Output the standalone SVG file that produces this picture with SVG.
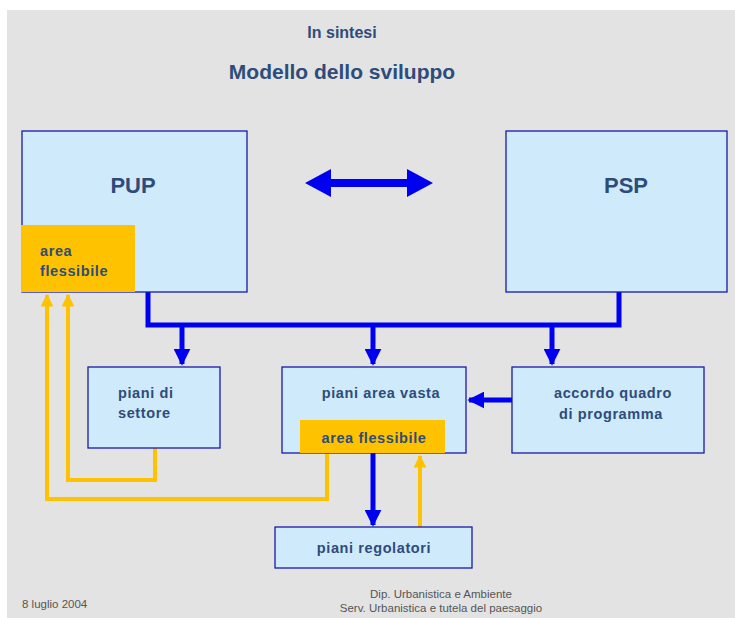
<svg xmlns="http://www.w3.org/2000/svg" width="735" height="618" viewBox="0 0 735 618">
<defs>
<style>
.box{fill:#cfeafb;stroke:#1a1aa8;stroke-width:1.3}
.flex{fill:#ffc200}
.t{font-family:"Liberation Sans",Arial,sans-serif;font-weight:bold;fill:#2e4c7a}
.l{font-size:14.5px;letter-spacing:0.6px}
.f{font-family:"Liberation Sans",Arial,sans-serif;fill:#555;font-size:11.5px}
.blue{stroke:#0000f0;stroke-width:5;fill:none}
.yel{stroke:#ffc200;stroke-width:4;fill:none}
</style>
<marker id="ab" viewBox="0 0 10 10" refX="9" refY="5" markerWidth="3.4" markerHeight="3.4" orient="auto" markerUnits="strokeWidth"><path d="M0,0 L10,5 L0,10 z" fill="#0000f0"/></marker>
<marker id="ay" viewBox="0 0 10 10" refX="9" refY="5" markerWidth="3.2" markerHeight="3.2" orient="auto" markerUnits="strokeWidth"><path d="M0,0 L10,5 L0,10 z" fill="#ffc200"/></marker>
</defs>
<rect x="0" y="0" width="735" height="618" fill="#ffffff"/>
<rect x="7" y="10" width="728" height="608" fill="#e3e3e3"/>
<text class="t" x="342" y="38" font-size="16" text-anchor="middle">In sintesi</text>
<text class="t" x="342" y="79" font-size="21" text-anchor="middle">Modello dello sviluppo</text>

<g id="connectors">
<path class="blue" d="M148,292 V325 H619 V292"/>
<path class="blue" d="M182,325 V364" marker-end="url(#ab)"/>
<path class="blue" d="M373,325 V364" marker-end="url(#ab)"/>
<path class="blue" d="M552,325 V364" marker-end="url(#ab)"/>
<path class="blue" d="M512,400 H469" marker-end="url(#ab)"/>
<path class="blue" d="M373,453 V525" marker-end="url(#ab)"/>
<polygon points="305,183 331,169 331,179 407,179 407,169 433,183 407,197 407,187 331,187 331,197" fill="#0000f0"/>
<path class="yel" d="M420,527 V456" marker-end="url(#ay)"/>
<path class="yel" d="M155,448 V480 H68 V295" marker-end="url(#ay)"/>
<path class="yel" d="M327,453 V499 H47 V295" marker-end="url(#ay)"/>
</g>

<g id="pup">
<rect class="box" x="22" y="131" width="225" height="161"/>
<text class="t" x="133" y="193" font-size="22" text-anchor="middle">PUP</text>
</g>
<g id="pup-flex">
<rect class="flex" x="21" y="225" width="114" height="67"/>
<text class="t l" x="40" y="256">area</text>
<text class="t l" x="40" y="276">flessibile</text>
</g>
<g id="psp">
<rect class="box" x="506" y="131" width="221" height="161"/>
<text class="t" x="626" y="193" font-size="22" text-anchor="middle">PSP</text>
</g>
<g id="settore">
<rect class="box" x="88" y="367" width="132" height="81"/>
<text class="t l" x="118" y="398">piani di</text>
<text class="t l" x="118" y="418">settore</text>
</g>
<g id="areavasta">
<rect class="box" x="282" y="367" width="184" height="86"/>
<text class="t l" x="381" y="398" text-anchor="middle">piani area vasta</text>
</g>
<g id="areavasta-flex">
<rect class="flex" x="300" y="420" width="145" height="33"/>
<text class="t l" x="374" y="443" text-anchor="middle">area flessibile</text>
</g>
<g id="accordo">
<rect class="box" x="512" y="367" width="192" height="86"/>
<text class="t l" x="613" y="398" text-anchor="middle">accordo quadro</text>
<text class="t l" x="611" y="419" text-anchor="middle">di programma</text>
</g>
<g id="regolatori">
<rect class="box" x="275" y="527" width="197" height="41"/>
<text class="t l" x="374" y="553" text-anchor="middle">piani regolatori</text>
</g>

<text class="f" x="22" y="608">8 luglio 2004</text>
<text class="f" x="441" y="598" text-anchor="middle">Dip. Urbanistica e Ambiente</text>
<text class="f" x="441" y="612" text-anchor="middle">Serv. Urbanistica e tutela del paesaggio</text>
</svg>
